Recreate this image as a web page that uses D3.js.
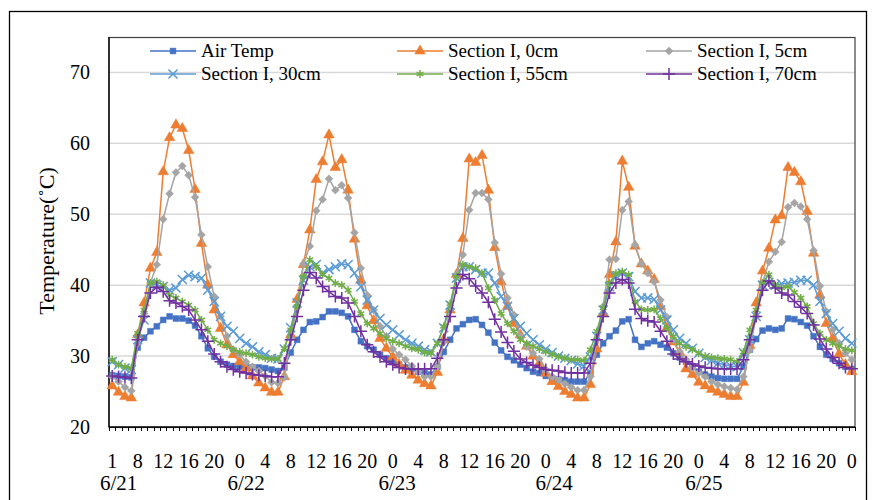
<!DOCTYPE html>
<html>
<head>
<meta charset="utf-8">
<script src="https://cdn.jsdelivr.net/npm/d3@7"></script>
<style>
  body { margin: 0; background: #fff; }
  svg { display: block; font-family: "Liberation Serif", "Times New Roman", serif; }
</style>
</head>
<body>
<div id="chart"></div>
<script>
// hour of each category (6/21 1:00 ... 6/26 0:00, 5-7h on 6/21 missing)
const hours = [1,2,3,4,8,9,10,11,12,13,14,15,16,17,18,19,20,21,22,23,
  0,1,2,3,4,5,6,7,8,9,10,11,12,13,14,15,16,17,18,19,20,21,22,23,
  0,1,2,3,4,5,6,7,8,9,10,11,12,13,14,15,16,17,18,19,20,21,22,23,
  0,1,2,3,4,5,6,7,8,9,10,11,12,13,14,15,16,17,18,19,20,21,22,23,
  0,1,2,3,4,5,6,7,8,9,10,11,12,13,14,15,16,17,18,19,20,21,22,23,
  0];
const dates = ["6/21", "6/22", "6/23", "6/24", "6/25"];
const dateAt = [1, 21, 44.7, 69.3, 92.8];   // category position of each date label
const yTicks = [20, 30, 40, 50, 60, 70];

const airTemp = [27.3,27.2,27.1,27.0,31.2,32.6,33.5,34.2,35.1,35.6,
  35.3,35.3,35.0,34.3,32.8,31.1,29.9,29.2,28.8,28.6,
  28.5,28.4,28.4,28.4,28.3,28.1,27.9,28.4,30.5,32.3,
  33.7,34.8,34.9,35.5,36.3,36.3,36.1,35.6,33.7,32.1,
  31.4,30.9,30.2,29.7,29.2,28.8,28.4,28.2,27.8,27.6,
  27.4,28.5,30.6,32.3,33.9,34.5,35.1,35.2,34.4,33.3,
  31.9,30.8,29.9,29.4,28.8,28.3,27.8,27.6,27.2,26.9,
  26.7,26.6,26.4,26.4,26.4,27.6,30.2,31.8,32.8,33.6,
  34.9,35.2,32.3,31.3,31.8,32.1,31.6,31.2,30.4,29.8,
  29.2,28.6,27.8,27.4,27.1,26.9,26.8,26.8,26.8,28.5,
  30.9,32.4,33.6,33.9,33.7,33.9,35.3,35.2,34.8,34.3,
  32.8,31.3,30.2,29.6,29.0,28.5,28.2];
const sec0 = [25.8,24.9,24.3,24.1,33.0,37.5,42.4,44.6,56.0,60.8,
  62.6,62.1,59.0,53.5,45.9,40.0,36.5,33.9,31.6,30.2,
  29.2,28.3,27.2,26.2,25.5,24.9,24.9,27.1,33.0,38.0,
  42.9,47.8,54.9,57.4,61.2,56.6,57.7,53.4,46.5,40.7,
  37.1,35.0,32.5,31.1,29.9,28.8,28.0,27.3,26.6,26.1,
  25.8,27.7,32.3,36.5,41.5,46.6,57.8,57.3,58.3,53.4,
  45.3,40.5,37.0,34.6,33.0,31.4,30.0,29.0,27.6,26.4,
  25.7,25.0,24.6,24.1,24.1,26.0,31.0,36.0,41.5,46.1,
  57.5,53.8,45.5,43.0,42.0,40.8,37.0,34.0,32.0,30.5,
  28.2,27.4,26.3,25.8,25.3,24.9,24.6,24.3,24.3,26.3,
  31.5,37.5,42.0,45.2,49.2,49.8,56.6,55.9,54.6,50.4,
  44.5,38.6,34.6,32.5,30.3,28.8,27.8];
const sec5 = [27.1,26.4,25.6,25.1,31.8,36.0,40.3,42.9,49.3,52.9,
  55.9,56.8,55.5,52.4,47.1,42.6,38.4,35.6,32.8,30.9,
  30.2,29.2,28.5,27.9,27.2,26.3,26.2,27.0,32.5,37.0,
  43.0,45.5,50.5,52.1,55.0,53.4,54.1,52.3,47.4,42.4,
  38.6,36.5,34.2,32.8,31.0,30.2,29.5,28.6,27.8,27.1,
  27.1,28.5,32.0,36.5,41.5,44.3,50.6,53.0,53.0,52.1,
  46.0,41.6,38.2,35.8,32.8,31.3,30.4,29.6,28.1,27.1,
  26.7,26.1,25.6,25.2,25.2,27.1,32.3,37.0,43.6,43.7,
  50.6,51.8,45.7,43.0,41.7,40.5,37.9,35.5,32.3,30.6,
  29.5,28.3,27.6,27.1,26.4,26.0,25.7,25.5,25.3,27.1,
  30.9,35.6,40.3,43.3,44.7,46.1,51.0,51.6,51.1,49.3,
  44.9,39.9,36.3,33.7,31.8,30.4,29.5];
const sec30 = [29.2,28.8,28.3,28.1,32.3,35.1,40.3,40.0,39.8,39.3,
  39.6,40.8,41.4,41.2,41.0,39.3,37.7,35.6,34.2,33.5,
  32.5,31.8,31.3,30.6,30.2,29.7,29.6,31.0,34.0,37.5,
  40.7,42.6,42.9,41.7,42.2,42.6,43.0,42.9,41.7,39.8,
  37.9,36.5,35.3,34.4,33.7,33.0,32.3,31.8,31.4,30.9,
  30.6,31.8,34.0,37.2,41.0,42.6,42.6,42.2,41.7,41.7,
  40.3,38.4,37.0,35.3,34.2,33.2,32.3,31.6,31.0,30.5,
  30.0,29.7,29.4,28.9,28.6,29.9,32.8,36.5,39.8,41.3,
  41.7,41.2,39.1,38.2,38.2,38.0,36.5,35.1,33.7,32.5,
  31.8,31.1,30.4,29.8,29.4,29.0,28.8,28.6,28.5,30.5,
  32.3,35.6,40.0,40.4,40.0,40.2,40.3,40.4,40.7,40.7,
  40.0,37.7,36.0,34.6,33.5,32.5,31.8];
const sec55 = [29.5,28.8,28.5,28.3,33.2,36.5,40.3,40.5,40.0,38.6,
  38.2,37.7,37.2,36.5,35.1,33.7,32.3,31.8,31.4,30.9,
  30.6,30.4,30.2,29.9,29.7,29.6,29.6,31.1,33.7,37.0,
  41.2,43.6,42.6,41.5,41.0,40.3,40.0,39.3,37.7,36.0,
  34.6,33.9,33.2,32.5,32.1,31.8,31.4,31.1,30.9,30.5,
  30.4,31.8,34.2,37.4,41.2,42.9,42.6,42.4,41.7,39.6,
  37.9,36.0,34.6,33.5,32.3,31.8,31.4,31.0,30.6,30.2,
  29.9,29.7,29.5,29.5,29.4,30.9,33.5,36.8,40.3,41.7,
  41.9,41.5,37.7,36.6,36.5,36.6,35.3,33.9,32.8,31.8,
  31.3,30.9,30.4,30.0,29.8,29.7,29.6,29.5,29.2,30.6,
  33.7,36.5,40.3,41.5,40.0,39.6,39.8,39.0,38.2,37.0,
  34.6,33.2,32.3,31.8,31.4,31.0,30.8];
const sec70 = [27.2,27.1,27.0,26.9,32.3,35.6,38.9,39.7,39.1,37.8,
  37.5,37.0,36.5,35.1,33.7,32.1,30.3,29.2,28.5,28.1,
  27.8,27.6,27.4,27.3,27.2,27.1,27.1,29.0,32.3,35.6,
  39.3,41.8,41.0,39.8,39.1,38.4,38.2,37.5,35.6,33.5,
  31.6,30.6,29.9,29.2,28.8,28.4,28.2,28.2,28.2,28.2,
  28.2,29.7,32.3,35.6,39.6,41.5,40.9,39.9,38.9,37.6,
  35.2,33.4,31.9,30.7,29.6,29.1,28.7,28.4,28.1,28.0,
  27.9,27.7,27.6,27.6,27.6,29.0,32.3,35.6,38.9,40.3,
  40.8,40.3,36.6,35.3,35.0,34.8,33.5,32.1,30.3,29.6,
  29.2,28.9,28.6,28.4,28.3,28.2,28.2,28.2,28.2,29.5,
  32.3,35.6,39.3,40.6,39.6,38.9,38.6,37.7,36.9,36.0,
  34.4,32.4,31.0,29.8,29.0,28.4,28.2];

const seriesNames = ["Air Temp", "Section I, 0cm", "Section I, 5cm", "Section I, 30cm", "Section I, 55cm", "Section I, 70cm"];
const seriesValues = [airTemp, sec0, sec5, sec30, sec55, sec70];
const colors = ["#4472C4", "#ED7D31", "#A5A5A5", "#5B9BD5", "#70AD47", "#7030A0"];
const symbols = [
  {type: d3.symbolSquare, size: 34, fill: true},
  {type: d3.symbolTriangle, size: 48, fill: true},
  {type: d3.symbolDiamond2, size: 40, fill: true},
  {type: d3.symbolTimes, size: 56, fill: false},
  {type: d3.symbolAsterisk, size: 42, fill: false},
  {type: d3.symbolPlus, size: 50, fill: false}
];

const w = 873, h = 500;
const plotL = 109, plotR = 855, plotT = 37, plotB = 427;

const svg = d3.select("#chart").append("svg")
  .attr("width", w)
  .attr("height", h);

// outer frame
svg.append("rect")
  .attr("x", 9.5).attr("y", 11.5)
  .attr("width", 857).attr("height", 500)
  .attr("fill", "none").attr("stroke", "#000").attr("stroke-width", 1.3);

const n = hours.length;
const xb = d3.scaleLinear().domain([0, n]).range([plotL, plotR]);
const x = i => xb(i + 0.5);
const y = d3.scaleLinear().domain([20, 75]).range([plotB, plotT]);

// grid
svg.append("g")
  .selectAll("line")
  .data(yTicks.filter(d => d > 20))
  .enter().append("line")
  .attr("x1", plotL).attr("x2", plotR)
  .attr("y1", d => y(d)).attr("y2", d => y(d))
  .attr("stroke", "#d9d9d9").attr("stroke-width", 1.5);

// plot area border
svg.append("rect")
  .attr("x", plotL).attr("y", plotT + 0.5)
  .attr("width", plotR - plotL).attr("height", plotB - plotT)
  .attr("fill", "none").attr("stroke", "#404040").attr("stroke-width", 1.2);

// y axis
svg.append("line")
  .attr("x1", plotL).attr("x2", plotL).attr("y1", plotT).attr("y2", plotB)
  .attr("stroke", "#000").attr("stroke-width", 1.3);
svg.append("g")
  .selectAll("text")
  .data(yTicks)
  .enter().append("text")
  .attr("x", 90).attr("y", d => y(d) + 7)
  .attr("text-anchor", "end")
  .attr("font-size", 20)
  .text(d => d);

svg.append("text")
  .attr("transform", `translate(54, ${(plotT + plotB) / 2 + 9}) rotate(-90)`)
  .attr("text-anchor", "middle")
  .attr("font-size", 22)
  .text("Temperature(\u02daC)");

// x axis
svg.append("line")
  .attr("x1", plotL).attr("x2", plotR).attr("y1", plotB).attr("y2", plotB)
  .attr("stroke", "#000").attr("stroke-width", 1.3);
svg.append("g")
  .selectAll("line")
  .data(d3.range(n + 1))
  .enter().append("line")
  .attr("x1", d => Math.round(xb(d)) + 0.5).attr("x2", d => Math.round(xb(d)) + 0.5)
  .attr("y1", plotB).attr("y2", plotB + 4)
  .attr("stroke", "#000").attr("stroke-width", 1);
svg.append("g")
  .selectAll("text")
  .data(d3.range(0, n, 4))
  .enter().append("text")
  .attr("x", d => x(d)).attr("y", 468)
  .attr("text-anchor", "middle")
  .attr("font-size", 20)
  .text(d => hours[d]);
svg.append("g")
  .selectAll("text")
  .data(dates)
  .enter().append("text")
  .attr("x", (d, i) => x(dateAt[i])).attr("y", 490)
  .attr("text-anchor", "middle")
  .attr("font-size", 21)
  .text(d => d);

// series
const line = d3.line().x((d, i) => x(i)).y(d => y(d));
seriesValues.forEach((vals, s) => {
  const g = svg.append("g");
  g.append("path")
    .attr("d", line(vals))
    .attr("fill", "none")
    .attr("stroke", colors[s])
    .attr("stroke-width", 1.5);
  const sym = symbols[s];
  g.selectAll("path.m")
    .data(vals)
    .enter().append("path")
    .attr("class", "m")
    .attr("transform", (d, i) => `translate(${x(i)},${y(d)})`)
    .attr("d", d3.symbol().type(sym.type).size(sym.size))
    .attr("fill", sym.fill ? colors[s] : "none")
    .attr("stroke", colors[s])
    .attr("stroke-width", sym.fill ? 0.5 : 1.5);
});

// legend
const legCols = [150, 397, 646];
const legRows = [51, 74];
seriesNames.forEach((name, s) => {
  const cx = legCols[s % 3], cy = legRows[Math.floor(s / 3)];
  const g = svg.append("g");
  g.append("line")
    .attr("x1", cx).attr("x2", cx + 46).attr("y1", cy).attr("y2", cy)
    .attr("stroke", colors[s]).attr("stroke-width", 1.5);
  const sym = symbols[s];
  g.append("path")
    .attr("transform", `translate(${cx + 23},${cy})`)
    .attr("d", d3.symbol().type(sym.type).size(sym.size))
    .attr("fill", sym.fill ? colors[s] : "none")
    .attr("stroke", colors[s])
    .attr("stroke-width", sym.fill ? 0.5 : 1.5);
  g.append("text")
    .attr("x", cx + 51).attr("y", cy + 6)
    .attr("font-size", 19)
    .text(name);
});
</script>
</body>
</html>
